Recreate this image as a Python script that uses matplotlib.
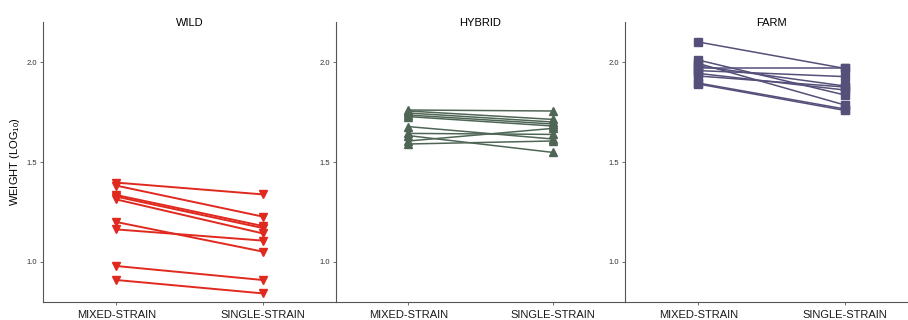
import matplotlib
matplotlib.use('Agg')
import matplotlib.pyplot as plt

plt.rcParams['font.family'] = ['Liberation Sans', 'DejaVu Sans']

# Data (log10 weight), paired mixed -> single
conditions = ['MIXED-STRAIN', 'SINGLE-STRAIN']
panels = ['WILD', 'HYBRID', 'FARM']

wild_mixed = [1.397, 1.382, 1.335, 1.327, 1.313, 1.200, 1.163, 0.980, 0.910]
wild_single = [1.338, 1.227, 1.180, 1.170, 1.143, 1.052, 1.107, 0.910, 0.843]

hybrid_mixed = [1.760, 1.755, 1.745, 1.735, 1.727, 1.677, 1.643, 1.632, 1.605, 1.590]
hybrid_single = [1.755, 1.713, 1.700, 1.690, 1.680, 1.615, 1.638, 1.548, 1.668, 1.605]

farm_mixed = [2.100, 2.010, 1.993, 1.980, 1.968, 1.957, 1.943, 1.930, 1.895, 1.890]
farm_single = [1.968, 1.835, 1.785, 1.880, 1.968, 1.927, 1.860, 1.875, 1.765, 1.758]

colors = ['#e0291f', '#4f6656', '#55507a']
markers = ['v', '^', 's']

fig = plt.figure(figsize=(9.08, 3.2), dpi=100)

# axes placed by hand to match the facet layout (last panel runs off the edge)
lefts = [43, 336, 625]
widths = [293, 289, 293]
data = [(wild_mixed, wild_single), (hybrid_mixed, hybrid_single), (farm_mixed, farm_single)]

for i, name in enumerate(panels):
    ax = fig.add_axes([lefts[i] / 908, 18 / 320, widths[i] / 908, 280 / 320])
    mixed, single = data[i]
    for a, b in zip(mixed, single):
        ax.plot([0, 1], [a, b], color=colors[i], marker=markers[i],
                markersize=5.5, linewidth=1.4 if i == 0 else 1.1)
    ax.set_xlim(-0.5, 1.5)
    ax.set_ylim(0.8, 2.2)
    ax.set_xticks([0, 1])
    ax.set_xticklabels(conditions, fontsize=8, color='#1a1a1a')
    ax.set_yticks([1.0, 1.5, 2.0])
    ax.set_yticklabels(['1.0', '1.5', '2.0'], fontsize=5.5, color='#333333')
    for s in ['top', 'right']:
        ax.spines[s].set_visible(False)
    for s in ['left', 'bottom']:
        ax.spines[s].set_color('#555555')
        ax.spines[s].set_linewidth(0.8)
    ax.tick_params(length=2.5, width=0.6, color='#555555', pad=2)
    ax.tick_params(axis='x', pad=3)
    ax.set_title(name, fontsize=8, pad=0, y=0.985)

fig.text(15 / 908, 1 - 162 / 320, 'WEIGHT (LOG$_{\\mathregular{10}}$)', fontsize=8,
         rotation=90, ha='center', va='center')

fig.savefig('out.png', dpi=100)
